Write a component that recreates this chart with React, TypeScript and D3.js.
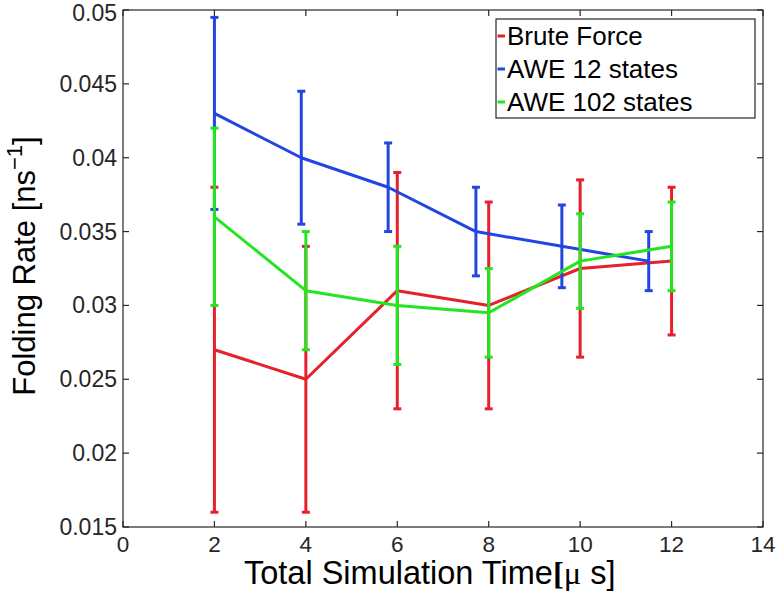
import React from "react";
import * as d3 from "d3";

const xBrute = [2, 4, 6, 8, 10, 12];
const yBrute = [0.027, 0.025, 0.031, 0.03, 0.0325, 0.033];
const loBrute = [0.016, 0.016, 0.023, 0.023, 0.0265, 0.028];
const hiBrute = [0.038, 0.034, 0.039, 0.037, 0.0385, 0.038];

const xAwe12 = [2, 3.9, 5.8, 7.72, 9.6, 11.5];
const yAwe12 = [0.043, 0.04, 0.038, 0.035, 0.034, 0.033];
const loAwe12 = [0.0365, 0.0355, 0.035, 0.032, 0.0312, 0.031];
const hiAwe12 = [0.0495, 0.0445, 0.041, 0.038, 0.0368, 0.035];

const xAwe102 = [2, 4, 6, 8, 10, 12];
const yAwe102 = [0.036, 0.031, 0.03, 0.0295, 0.033, 0.034];
const loAwe102 = [0.03, 0.027, 0.026, 0.0265, 0.0298, 0.031];
const hiAwe102 = [0.042, 0.035, 0.034, 0.0325, 0.0362, 0.037];

const seriesNames = ["Brute Force", "AWE 12 states", "AWE 102 states"];
const seriesColors = ["#e6202c", "#2346e0", "#22e620"];

const xTicks = [0, 2, 4, 6, 8, 10, 12, 14];
const yTicks = [0.015, 0.02, 0.025, 0.03, 0.035, 0.04, 0.045, 0.05];
const yTickLabels = ["0.015", "0.02", "0.025", "0.03", "0.035", "0.04", "0.045", "0.05"];

const W = 778;
const H = 598;
const left = 123;
const right = 763;
const top = 10;
const bottom = 527;

export default function App() {
  const x = d3.scaleLinear().domain([0, 14]).range([left, right]);
  const y = d3.scaleLinear().domain([0.015, 0.05]).range([bottom, top]);
  const line = d3
    .line<[number, number]>()
    .x((d) => x(d[0]))
    .y((d) => y(d[1]));

  const series = [
    { xs: xBrute, ys: yBrute, lo: loBrute, hi: hiBrute },
    { xs: xAwe12, ys: yAwe12, lo: loAwe12, hi: hiAwe12 },
    { xs: xAwe102, ys: yAwe102, lo: loAwe102, hi: hiAwe102 },
  ];
  const font = "'Liberation Sans', Arial, Helvetica, sans-serif";
  const tickLen = 6;
  const capHalf = 4;

  return (
    <svg
      width={W}
      height={H}
      style={{ position: "absolute", left: 0, top: 0, background: "#fff" }}
      fontFamily={font}
    >
      <rect x={0} y={0} width={W} height={H} fill="#fff" />
      {series.map((s, si) => (
        <g key={si} stroke={seriesColors[si]} strokeWidth={3} fill="none">
          <path d={line(s.xs.map((v, i) => [v, s.ys[i]] as [number, number])) || ""} strokeLinejoin="round" />
          {s.xs.map((v, i) => (
            <g key={i}>
              <line x1={x(v)} x2={x(v)} y1={y(s.lo[i])} y2={y(s.hi[i])} />
              <line x1={x(v) - capHalf} x2={x(v) + capHalf} y1={y(s.lo[i])} y2={y(s.lo[i])} />
              <line x1={x(v) - capHalf} x2={x(v) + capHalf} y1={y(s.hi[i])} y2={y(s.hi[i])} />
            </g>
          ))}
        </g>
      ))}
      <rect x={left} y={top} width={right - left} height={bottom - top} fill="none" stroke="#262626" strokeWidth={1.2} />
      {xTicks.map((t, i) => (
        <g key={"xt" + i} stroke="#262626" strokeWidth={1.2}>
          <line x1={x(t)} x2={x(t)} y1={bottom} y2={bottom - tickLen} />
          <line x1={x(t)} x2={x(t)} y1={top} y2={top + tickLen} />
        </g>
      ))}
      {yTicks.map((t, i) => (
        <g key={"yt" + i} stroke="#262626" strokeWidth={1.2}>
          <line x1={left} x2={left + tickLen} y1={y(t)} y2={y(t)} />
          <line x1={right} x2={right - tickLen} y1={y(t)} y2={y(t)} />
        </g>
      ))}
      {xTicks.map((t, i) => (
        <text key={"xl" + i} x={x(t)} y={552} textAnchor="middle" fontSize={22.5} fill="#262626">
          {t}
        </text>
      ))}
      {yTicks.map((t, i) => (
        <text key={"yl" + i} x={117} y={Math.max(y(t) + 8, 21)} textAnchor="end" fontSize={23} fill="#262626">
          {yTickLabels[i]}
        </text>
      ))}
      <text x={244} y={584} fontSize={32.5} fill="#000">
        Total Simulation Time
        <tspan fontFamily="'Liberation Serif', 'Times New Roman', serif" fontWeight="bold">[</tspan>
        <tspan fontFamily="'Liberation Serif', 'Times New Roman', serif">μ</tspan>
        {" s]"}
      </text>
      <text transform={`translate(35,266) rotate(-90)`} textAnchor="middle" fontSize={31} fill="#000">
        Folding Rate [ns
        <tspan fontSize={22} dy={-13}>−1</tspan>
        <tspan dy={13}>]</tspan>
      </text>
      <rect x={496} y={19} width={259} height={99} fill="#fff" stroke="#262626" strokeWidth={1.2} />
      {seriesNames.map((n, i) => (
        <g key={"lg" + i}>
          <line x1={497.5} x2={505} y1={36 + i * 33} y2={36 + i * 33} stroke={seriesColors[i]} strokeWidth={3} />
          <text x={507} y={45 + i * 33} fontSize={26} fill="#000">
            {n}
          </text>
        </g>
      ))}
    </svg>
  );
}
